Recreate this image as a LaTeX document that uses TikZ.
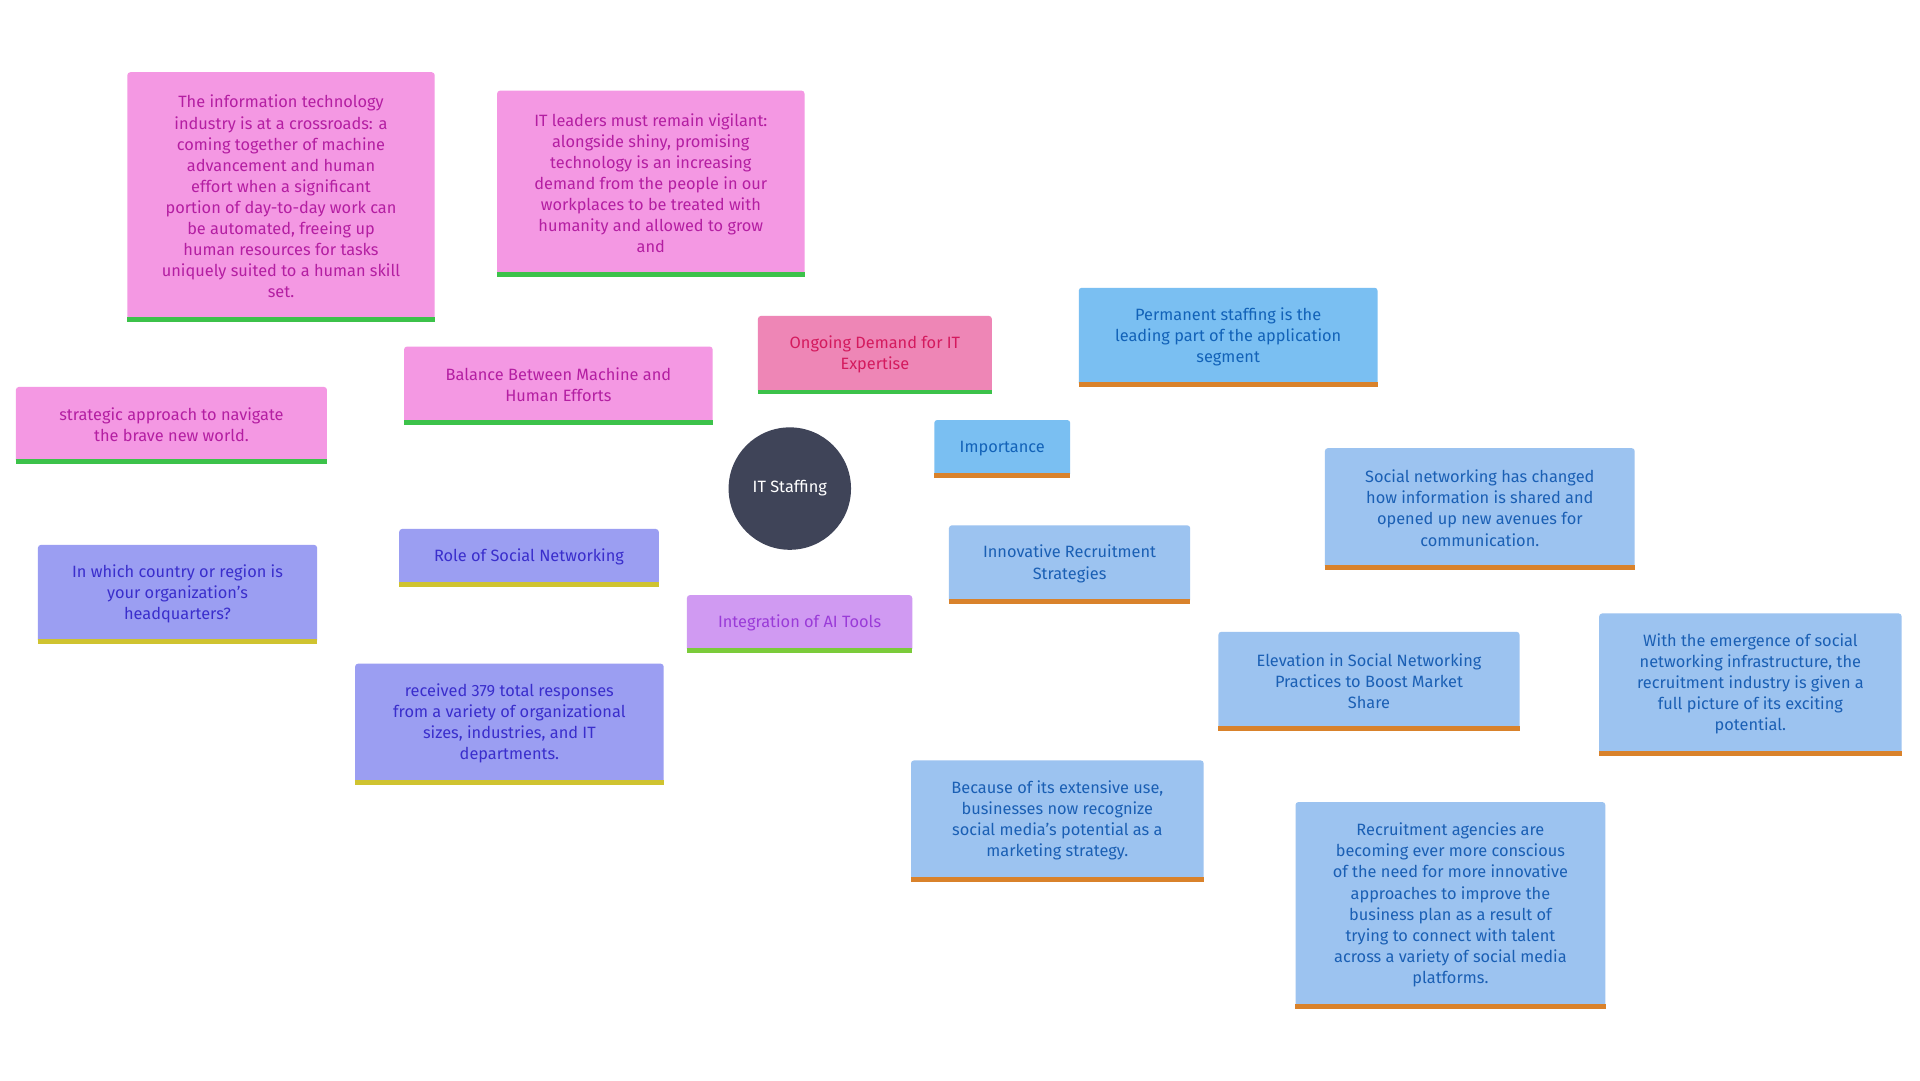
\documentclass[tikz,border=0pt]{standalone}
\usepackage{fontspec}
\setmainfont{Fira Sans}
\usetikzlibrary{backgrounds}
\definecolor{pkf}{HTML}{F498E3}\definecolor{pkt}{HTML}{B41EA2}
\definecolor{ogf}{HTML}{EE86B6}\definecolor{ogt}{HTML}{D41A5E}
\definecolor{b1f}{HTML}{7ABFF2}\definecolor{b1t}{HTML}{1262B8}
\definecolor{b2f}{HTML}{9CC3F0}\definecolor{b2t}{HTML}{1A5FB4}
\definecolor{puf}{HTML}{9B9EF2}\definecolor{put}{HTML}{3A2ECC}
\definecolor{inf}{HTML}{D09AF2}\definecolor{int}{HTML}{9A3BD8}
\definecolor{grn}{HTML}{3CC24A}\definecolor{org}{HTML}{D9822B}
\definecolor{ylw}{HTML}{CFC330}\definecolor{lgr}{HTML}{7BCB3A}
\definecolor{ctr}{HTML}{3F4458}
\tikzset{
 base/.style={rectangle,rounded corners=0.12cm,align=center,font=\fontsize{19}{24.5}\selectfont},
 pk/.style={base,fill=pkf,text=pkt},
 og/.style={base,fill=ogf,text=ogt},
 bo/.style={base,fill=b1f,text=b1t},
 bt/.style={base,fill=b2f,text=b2t},
 pu/.style={base,fill=puf,text=put},
 ig/.style={base,fill=inf,text=int},
 edge/.style={line width=0.17cm},
 bar/.style={line width=0.2cm}
}
\newcommand\mybox[8]{%
 \pgfmathsetmacro\cx{(#2+#4)/2}\pgfmathsetmacro\cy{(#3+#5)/2}%
 \pgfmathsetmacro\ww{(#4-#2)*0.05}\pgfmathsetmacro\hh{(#5-#3)*0.05}%
 \node[#6,minimum width=\ww cm,minimum height=\hh cm,inner sep=0pt] (#1) at (\cx,\cy) {#8};
 \draw[bar,#7] ([yshift=0.05cm]#1.south west) -- ([yshift=0.05cm]#1.south east);}
\begin{document}
\begin{tikzpicture}[x=0.05cm,y=-0.05cm]
\useasboundingbox[fill=white] (0,0) rectangle (1568,882);
\node[circle,fill=ctr,text=white,minimum size=5cm,inner sep=0pt,font=\fontsize{19}{24}\selectfont] (c) at (645,399) {IT Staffing};
\mybox{bal}{330}{283}{582}{346}{pk}{grn}{Balance Between Machine and\\Human Efforts}
\mybox{inf}{104}{59}{355}{262}{pk}{grn}{The information technology\\industry is at a crossroads: a\\coming together of machine\\advancement and human\\effort when a significant\\portion of day-to-day work can\\be automated, freeing up\\human resources for tasks\\uniquely suited to a human skill\\set.}
\mybox{itl}{406}{74}{657}{225}{pk}{grn}{IT leaders must remain vigilant:\\alongside shiny, promising\\technology is an increasing\\demand from the people in our\\workplaces to be treated with\\humanity and allowed to grow\\and}
\mybox{str}{13}{316}{267}{378}{pk}{grn}{strategic approach to navigate\\the brave new world.}
\mybox{ong}{619}{258}{810}{321}{og}{grn}{Ongoing Demand for IT\\Expertise}
\mybox{imp}{763}{343}{874}{389}{bo}{org}{Importance}
\mybox{per}{881}{235}{1125}{315}{bo}{org}{Permanent staffing is the\\leading part of the application\\segment}
\mybox{inn}{775}{429}{972}{492}{bt}{org}{Innovative Recruitment\\Strategies}
\mybox{ele}{995}{516}{1241}{596}{bt}{org}{Elevation in Social Networking\\Practices to Boost Market\\Share}
\mybox{soc}{1082}{366}{1335}{464}{bt}{org}{Social networking has changed\\how information is shared and\\opened up new avenues for\\communication.}
\mybox{wit}{1306}{501}{1553}{616}{bt}{org}{With the emergence of social\\networking infrastructure, the\\recruitment industry is given a\\full picture of its exciting\\potential.}
\mybox{bec}{744}{621}{983}{719}{bt}{org}{Because of its extensive use,\\businesses now recognize\\social media’s potential as a\\marketing strategy.}
\mybox{rec}{1058}{655}{1311}{823}{bt}{org}{Recruitment agencies are\\becoming ever more conscious\\of the need for more innovative\\approaches to improve the\\business plan as a result of\\trying to connect with talent\\across a variety of social media\\platforms.}
\mybox{rol}{326}{432}{538}{478}{pu}{ylw}{Role of Social Networking}
\mybox{inw}{31}{445}{259}{525}{pu}{ylw}{In which country or region is\\your organization’s\\headquarters?}
\mybox{rcv}{290}{542}{542}{640}{pu}{ylw}{received 379 total responses\\from a variety of organizational\\sizes, industries, and IT\\departments.}
\mybox{itg}{561}{486}{745}{532}{ig}{lgr}{Integration of AI Tools}
\begin{scope}[on background layer]
\draw[edge,pkf!85!white] (c.center)--(bal.center) (bal.center)--(inf.center) (bal.center)--(itl.center) (bal.center)--(str.center);
\draw[edge,ogf] (c.center)--(ong.center);
\draw[edge,b1f] (c.center)--(imp.center) (imp.center)--(per.center);
\draw[edge,b2f] (c.center)--(inn.center) (inn.center)--(ele.center) (ele.center)--(soc.center) (ele.center)--(wit.center) (ele.center)--(bec.center) (ele.center)--(rec.center);
\draw[edge,puf] (c.center)--(rol.center) (rol.center)--(inw.center) (rol.center)--(rcv.center);
\draw[edge,inf] (c.center)--(itg.center);
\end{scope}
\end{tikzpicture}
\end{document}
